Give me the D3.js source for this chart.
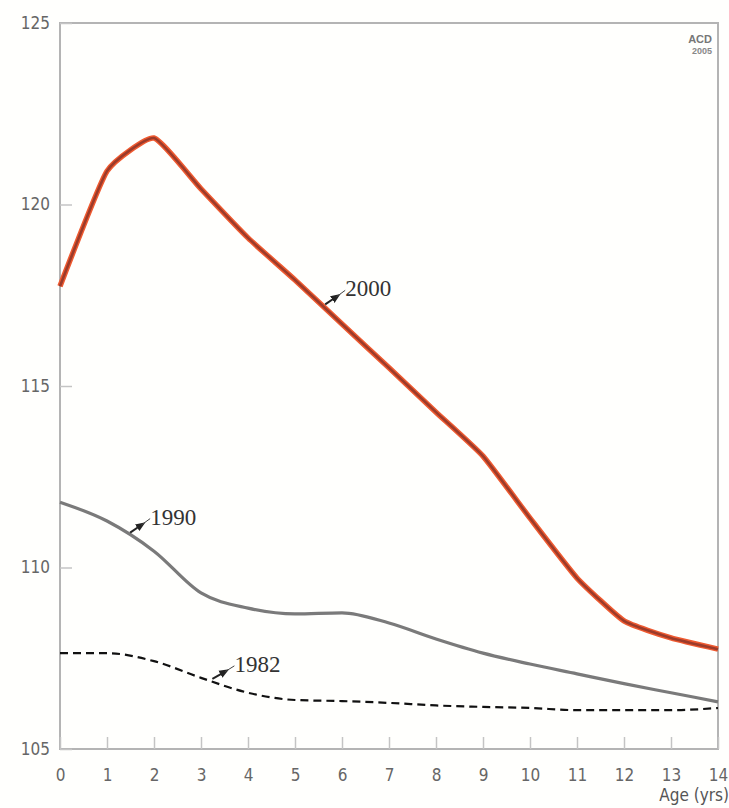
<!DOCTYPE html>
<html>
<head>
<meta charset="utf-8">
<script src="https://cdn.jsdelivr.net/npm/d3@7"></script>
<style>
  body { margin: 0; background: #fffffd; }
  .tick text { font-family: 'Liberation Sans Narrow', 'DejaVu Sans Condensed', sans-serif; fill: #666; font-size: 17px; }
</style>
</head>
<body>
<div id="chart"></div>
<script>
const ages = [0, 1, 2, 3, 4, 5, 6, 7, 8, 9, 10, 11, 12, 13, 14]
const y2000 = [117.75, 120.92, 121.83, 120.43, 119.08, 117.92, 116.71, 115.5, 114.28, 113.07, 111.36, 109.71, 108.53, 108.06, 107.75]
const y1990 = [111.8, 111.28, 110.45, 109.3, 108.88, 108.72, 108.75, 108.47, 108.03, 107.64, 107.34, 107.07, 106.8, 106.55, 106.3]
const y1982 = [107.64, 107.64, 107.42, 106.96, 106.55, 106.35, 106.32, 106.27, 106.2, 106.16, 106.13, 106.07, 106.07, 106.07, 106.13]
const yTicks = [105, 110, 115, 120, 125]
const seriesLabels = ['2000', '1990', '1982']

const margin = { top: 23, left: 60, right: 11, bottom: 59 }
const width = 729 - margin.left - margin.right
const height = 808 - margin.top - margin.bottom

const svg = d3
  .select('#chart')
  .append('svg')
  .attr('width', 729)
  .attr('height', 808)
  .append('g')
  .attr('transform', 'translate(' + margin.left + ',' + margin.top + ')')

const xScale = d3.scaleLinear().domain([0, 14]).range([0, width])
const yScale = d3.scaleLinear().domain([105, 125]).range([height, 0])

// frame
svg.append('rect')
  .attr('width', width)
  .attr('height', height)
  .attr('fill', 'none')
  .attr('stroke', '#b4b4b4')
  .attr('stroke-width', 2)

const xAxis = d3.axisBottom(xScale).tickValues(ages).tickSize(-12).tickPadding(20).tickFormat(d3.format('d'))
svg.append('g')
  .attr('transform', 'translate(0,' + height + ')')
  .call(xAxis)
  .call(g => g.select('.domain').remove())
  .call(g => g.selectAll('.tick line').attr('stroke', '#c4c4c4').attr('stroke-width', 1.5))

const yAxis = d3.axisLeft(yScale).tickValues(yTicks).tickSize(-12).tickPadding(10)
svg.append('g')
  .call(yAxis)
  .call(g => g.select('.domain').remove())
  .call(g => g.selectAll('.tick line').attr('stroke', '#c4c4c4').attr('stroke-width', 1.5))

svg.append('text')
  .attr('x', width + 11)
  .attr('y', height + 52)
  .attr('text-anchor', 'end')
  .attr('font-family', "'Liberation Sans Narrow', 'DejaVu Sans Condensed', sans-serif")
  .attr('font-size', 17)
  .attr('fill', '#555')
  .text('Age (yrs)')

svg.append('text')
  .attr('x', width - 6)
  .attr('y', 20)
  .attr('text-anchor', 'end')
  .attr('font-family', "'Liberation Sans Narrow', sans-serif")
  .attr('font-size', 11)
  .attr('font-weight', 'bold')
  .attr('fill', '#777')
  .text('ACD')
svg.append('text')
  .attr('x', width - 6)
  .attr('y', 31)
  .attr('text-anchor', 'end')
  .attr('font-family', "'Liberation Sans Narrow', sans-serif")
  .attr('font-size', 9)
  .attr('font-weight', 'bold')
  .attr('fill', '#888')
  .text('2005')

const line = vals => d3.line()
  .curve(d3.curveCardinal.tension(0.55))
  .x((d, i) => xScale(ages[i]))
  .y(d => yScale(d))(vals)

const smooth = vals => d3.line()
  .curve(d3.curveMonotoneX)
  .x((d, i) => xScale(ages[i]))
  .y(d => yScale(d))(vals)

// 1982 dashed
svg.append('path')
  .attr('d', smooth(y1982))
  .attr('fill', 'none')
  .attr('stroke', '#111')
  .attr('stroke-width', 2.2)
  .attr('stroke-dasharray', '8,5')

// 1990 grey
svg.append('path')
  .attr('d', smooth(y1990))
  .attr('fill', 'none')
  .attr('stroke', '#7a7a7a')
  .attr('stroke-width', 3.2)

// 2000 red
svg.append('path')
  .attr('d', line(y2000))
  .attr('fill', 'none')
  .attr('stroke', '#ef5a30')
  .attr('stroke-width', 5.5)
  .attr('stroke-linejoin', 'round')
svg.append('path')
  .attr('d', line(y2000))
  .attr('fill', 'none')
  .attr('stroke', '#9c3b2a')
  .attr('stroke-width', 2.6)
  .attr('stroke-linejoin', 'round')

// arrow labels
svg.append('defs').append('marker')
  .attr('id', 'head')
  .attr('viewBox', '0 0 10 10')
  .attr('refX', 5).attr('refY', 5)
  .attr('markerWidth', 5).attr('markerHeight', 5)
  .attr('orient', 'auto')
  .append('path')
  .attr('d', 'M0,1 L10,5 L0,9 Z')
  .attr('fill', '#222')

const labelPos = [
  { age: 5.6, val: y2000, dx: 22, dy: -16 },
  { age: 1.45, val: y1990, dx: 22, dy: -16 },
  { age: 3.2, val: y1982, dx: 24, dy: -15 }
]

labelPos.forEach((p, k) => {
  const i0 = Math.floor(p.age)
  const t = p.age - i0
  const v = p.val[i0] * (1 - t) + p.val[i0 + 1] * t
  const x0 = xScale(p.age)
  const y0 = yScale(v)
  svg.append('line')
    .attr('x1', x0 + 2).attr('y1', y0 - 2)
    .attr('x2', x0 + p.dx * 0.6).attr('y2', y0 + p.dy * 0.6)
    .attr('stroke', '#222')
    .attr('stroke-width', 2)
    .attr('marker-end', 'url(#head)')
  svg.append('line')
    .attr('x1', x0 + p.dx * 0.6).attr('y1', y0 + p.dy * 0.6)
    .attr('x2', x0 + p.dx).attr('y2', y0 + p.dy)
    .attr('stroke', '#444')
    .attr('stroke-width', 1)
  svg.append('text')
    .attr('x', x0 + p.dx)
    .attr('y', y0 + p.dy + 6)
    .attr('font-family', "'Liberation Serif', serif")
    .attr('font-size', 23)
    .attr('fill', '#333')
    .text(seriesLabels[k])
})
</script>
</body>
</html>
